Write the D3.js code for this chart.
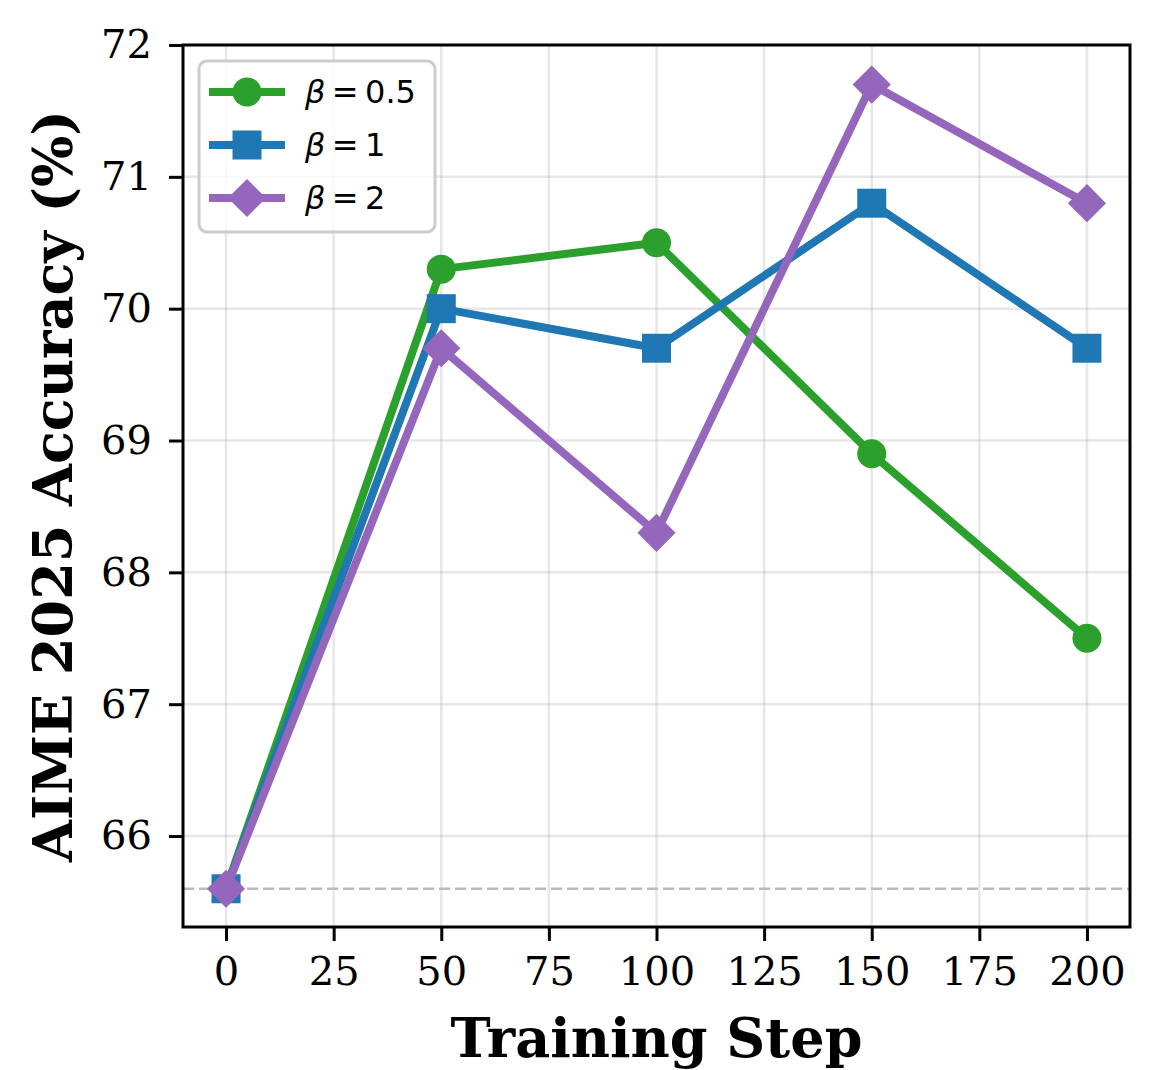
<!DOCTYPE html>
<html lang="en">
<head>
    <meta charset="UTF-8">
    <title>AIME 2025 Accuracy vs Training Step</title>
    <script src="https://d3js.org/d3.v7.min.js"></script>
    <style>
        body { margin: 0; background: white; }
        svg { display: block; }
        .tick text { font-family: "DejaVu Serif", serif; font-size: 40px; fill: black; }
        .axis-label { font-family: "DejaVu Serif", serif; font-size: 54px; font-weight: bold; }
        .legend-text { font-family: "DejaVu Sans", sans-serif; font-size: 32px; }
    </style>
</head>
<body>
    <script>
        const steps = [0, 50, 100, 150, 200];
        const beta05 = [65.6, 70.3, 70.5, 68.9, 67.5];
        const beta1 = [65.6, 70.0, 69.7, 70.8, 69.7];
        const beta2 = [65.6, 69.7, 68.3, 71.7, 70.8];
        const baseline = 65.6;
        const xTicks = [0, 25, 50, 75, 100, 125, 150, 175, 200];
        const yTicks = [66, 67, 68, 69, 70, 71, 72];

        const series = [
            { name: "0.5", values: beta05, color: "#2ca02c", marker: "circle" },
            { name: "1", values: beta1, color: "#1f77b4", marker: "square" },
            { name: "2", values: beta2, color: "#9467bd", marker: "diamond" }
        ];

        const width = 1160, height = 1070;
        const margin = { left: 183, right: 30, top: 45, bottom: 143 };

        const svg = d3.select("body").append("svg")
            .attr("width", width)
            .attr("height", height);

        const x = d3.scaleLinear().domain([-10, 210]).range([margin.left, width - margin.right]);
        const y = d3.scaleLinear().domain([65.31, 72]).range([height - margin.bottom, margin.top]);

        // grid
        const grid = svg.append("g");
        grid.selectAll(".gx").data(xTicks).enter().append("line")
            .attr("x1", d => x(d)).attr("x2", d => x(d))
            .attr("y1", y.range()[0]).attr("y2", y.range()[1])
            .attr("stroke", "#b0b0b0").attr("stroke-opacity", 0.3).attr("stroke-width", 2.5);
        grid.selectAll(".gy").data(yTicks).enter().append("line")
            .attr("x1", x.range()[0]).attr("x2", x.range()[1])
            .attr("y1", d => y(d)).attr("y2", d => y(d))
            .attr("stroke", "#b0b0b0").attr("stroke-opacity", 0.3).attr("stroke-width", 2.5);

        // baseline
        svg.append("line")
            .attr("x1", x.range()[0]).attr("x2", x.range()[1])
            .attr("y1", y(baseline)).attr("y2", y(baseline))
            .attr("stroke", "#bbbbbb").attr("stroke-width", 2.5)
            .attr("stroke-dasharray", "11,5");

        // lines + markers
        const line = d3.line().x((d, i) => x(steps[i])).y(d => y(d));
        const symbolOf = {
            circle: d3.symbol().type(d3.symbolCircle).size(Math.PI * 14.5 * 14.5),
            square: d3.symbol().type(d3.symbolSquare).size(29 * 29),
            diamond: d3.symbol().type(d3.symbolSquare).size(27 * 27)
        };

        series.forEach(s => {
            const g = svg.append("g");
            g.append("path")
                .datum(s.values)
                .attr("d", line)
                .attr("fill", "none")
                .attr("stroke", s.color)
                .attr("stroke-width", 8)
                .attr("stroke-linejoin", "round");
            g.selectAll("path.m").data(s.values).enter().append("path")
                .attr("class", "m")
                .attr("d", symbolOf[s.marker]())
                .attr("transform", (d, i) => `translate(${x(steps[i])},${y(d)})` + (s.marker === "diamond" ? " rotate(45)" : ""))
                .attr("fill", s.color);
        });

        // axes
        const xAxis = svg.append("g")
            .attr("transform", `translate(0,${y.range()[0]})`)
            .call(d3.axisBottom(x).tickValues(xTicks).tickSize(14).tickPadding(16));
        const yAxis = svg.append("g")
            .attr("transform", `translate(${x.range()[0]},0)`)
            .call(d3.axisLeft(y).tickValues(yTicks).tickFormat(d3.format("d")).tickSize(14).tickPadding(17));
        [xAxis, yAxis].forEach(a => {
            a.select(".domain").remove();
            a.selectAll(".tick line").attr("stroke-width", 3);
        });

        // frame
        svg.append("rect")
            .attr("x", x.range()[0]).attr("y", y.range()[1])
            .attr("width", x.range()[1] - x.range()[0])
            .attr("height", y.range()[0] - y.range()[1])
            .attr("fill", "none").attr("stroke", "black").attr("stroke-width", 3);

        // labels
        svg.append("text")
            .attr("class", "axis-label")
            .attr("x", (x.range()[0] + x.range()[1]) / 2)
            .attr("y", 1057)
            .attr("text-anchor", "middle")
            .text("Training Step");
        svg.append("text")
            .attr("class", "axis-label")
            .attr("transform", `translate(72,${(y.range()[0] + y.range()[1]) / 2}) rotate(-90)`)
            .attr("text-anchor", "middle")
            .text("AIME 2025 Accuracy (%)");

        // legend
        const lg = svg.append("g").attr("transform", "translate(199,61)");
        lg.append("rect")
            .attr("width", 236).attr("height", 171)
            .attr("rx", 8)
            .attr("fill", "white").attr("fill-opacity", 0.8)
            .attr("stroke", "#cccccc").attr("stroke-width", 3);
        series.forEach((s, i) => {
            const cy = 31 + i * 53;
            const row = lg.append("g").attr("transform", `translate(0,${cy})`);
            row.append("line").attr("x1", 10).attr("x2", 86)
                .attr("stroke", s.color).attr("stroke-width", 8);
            row.append("path")
                .attr("d", symbolOf[s.marker]())
                .attr("transform", "translate(48,0)" + (s.marker === "diamond" ? " rotate(45)" : ""))
                .attr("fill", s.color);
            const t = row.append("text").attr("class", "legend-text")
                .attr("x", 106).attr("y", 11);
            t.append("tspan").attr("font-style", "italic").text("β");
            t.append("tspan").text("\u2009=\u2009" + s.name);
        });
    </script>
</body>
</html>
